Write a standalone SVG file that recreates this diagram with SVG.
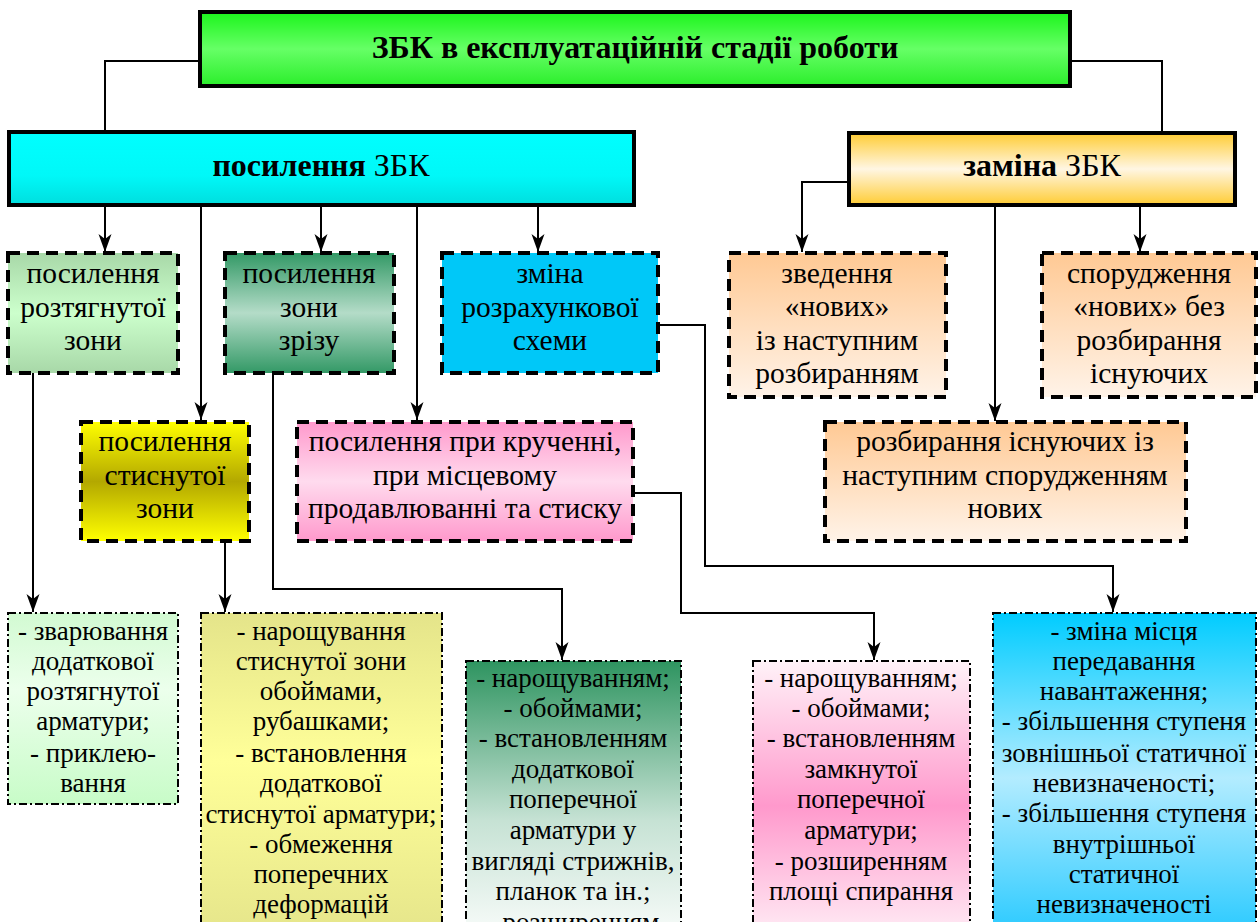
<svg xmlns="http://www.w3.org/2000/svg" width="1258" height="922" viewBox="0 0 1258 922">
<style>
.t{font-family:"Liberation Serif","Times New Roman",serif;font-size:29.5px;fill:#000;text-anchor:middle}
.h{font-size:32px}
.s{font-size:27px}
.b{font-weight:bold}
.hdr{stroke:#000;stroke-width:4}
.dsh{stroke:#000;stroke-width:4;stroke-dasharray:12 7}
.dd{stroke:#000;stroke-width:2;stroke-dasharray:8 3 2 3}
.c{fill:none;stroke:#000;stroke-width:2}
</style>
<defs>
<marker id="ah" markerUnits="userSpaceOnUse" markerWidth="20" markerHeight="14" refX="18" refY="7" orient="auto" viewBox="0 0 20 14"><path d="M0,0.5 L18,7 L0,13.5 L5,7 Z" fill="#000"/></marker>
<linearGradient id="gTitle" x1="0" y1="0" x2="0" y2="1"><stop offset="0" stop-color="#1cf51c"/><stop offset="0.5" stop-color="#66ff66"/><stop offset="1" stop-color="#2bee2b"/></linearGradient>
<linearGradient id="gCyan" x1="0" y1="0" x2="0" y2="1"><stop offset="0" stop-color="#00ffff"/><stop offset="0.6" stop-color="#00f8f8"/><stop offset="1" stop-color="#00dede"/></linearGradient>
<linearGradient id="gGold" x1="0" y1="0" x2="0" y2="1"><stop offset="0" stop-color="#ffcc33"/><stop offset="0.5" stop-color="#fff6e3"/><stop offset="1" stop-color="#ffcc33"/></linearGradient>
<linearGradient id="gLG" x1="0" y1="0" x2="0" y2="1"><stop offset="0" stop-color="#a8d8a8"/><stop offset="0.5" stop-color="#ccffcc"/><stop offset="1" stop-color="#a8d8a8"/></linearGradient>
<linearGradient id="gDG" x1="0" y1="0" x2="0" y2="1"><stop offset="0" stop-color="#339966"/><stop offset="0.5" stop-color="#b4dcc8"/><stop offset="1" stop-color="#339966"/></linearGradient>
<linearGradient id="gYel" x1="0" y1="0" x2="0" y2="1"><stop offset="0" stop-color="#ffff00"/><stop offset="0.5" stop-color="#b3a800"/><stop offset="1" stop-color="#ffff00"/></linearGradient>
<linearGradient id="gPink" x1="0" y1="0" x2="0" y2="1"><stop offset="0" stop-color="#ff99cc"/><stop offset="0.5" stop-color="#ffdbee"/><stop offset="1" stop-color="#ff99cc"/></linearGradient>
<linearGradient id="gOr" x1="0" y1="0" x2="0" y2="1"><stop offset="0" stop-color="#ffc994"/><stop offset="1" stop-color="#fff3e8"/></linearGradient>
<linearGradient id="gBLG" x1="0" y1="0" x2="0" y2="1"><stop offset="0" stop-color="#d2fad2"/><stop offset="0.4" stop-color="#ecffec"/><stop offset="1" stop-color="#c8fcc8"/></linearGradient>
<linearGradient id="gBY" x1="0" y1="0" x2="0" y2="1"><stop offset="0" stop-color="#e4e48a"/><stop offset="0.45" stop-color="#ffff99"/><stop offset="1" stop-color="#e4e48a"/></linearGradient>
<linearGradient id="gBDG" x1="0" y1="0" x2="0" y2="1"><stop offset="0" stop-color="#2e9460"/><stop offset="0.55" stop-color="#c6e2d4"/><stop offset="1" stop-color="#ffffff"/></linearGradient>
<linearGradient id="gBP" x1="0" y1="0" x2="0" y2="1"><stop offset="0" stop-color="#fff2f8"/><stop offset="0.5" stop-color="#ff99cc"/><stop offset="1" stop-color="#fff6fa"/></linearGradient>
<linearGradient id="gBB" x1="0" y1="0" x2="0" y2="1"><stop offset="0" stop-color="#00ccff"/><stop offset="0.5" stop-color="#b3ecff"/><stop offset="1" stop-color="#22c8ff"/></linearGradient>
</defs>

<g id="connectors">
<path class="c" d="M200,61 H105 V132"/>
<path class="c" d="M1070,61 H1162 V133"/>
<path class="c" d="M105,205 V252" marker-end="url(#ah)"/>
<path class="c" d="M201,205 V420" marker-end="url(#ah)"/>
<path class="c" d="M321,205 V252" marker-end="url(#ah)"/>
<path class="c" d="M417,205 V420" marker-end="url(#ah)"/>
<path class="c" d="M538,205 V252" marker-end="url(#ah)"/>
<path class="c" d="M849,182 H802 V252" marker-end="url(#ah)"/>
<path class="c" d="M1140,205 V252" marker-end="url(#ah)"/>
<path class="c" d="M995,205 V421" marker-end="url(#ah)"/>
<path class="c" d="M33,373 V612" marker-end="url(#ah)"/>
<path class="c" d="M225,541 V612" marker-end="url(#ah)"/>
<path class="c" d="M273,373 V589 H562 V660" marker-end="url(#ah)"/>
<path class="c" d="M633,493 H681 V613 H874 V660" marker-end="url(#ah)"/>
<path class="c" d="M658,325 H705 V566 H1113 V612" marker-end="url(#ah)"/>
</g>

<g id="title">
<rect class="hdr" x="200" y="12" width="870" height="74" fill="url(#gTitle)"/>
<text class="t h b" x="635" y="58">ЗБК в експлуатаційній стадії роботи</text>
</g>
<g id="posylennia">
<rect class="hdr" x="9" y="132" width="625" height="73" fill="url(#gCyan)"/>
<text class="t h" x="321" y="176"><tspan class="b">посилення</tspan> ЗБК</text>
</g>
<g id="zamina">
<rect class="hdr" x="849" y="133" width="386" height="72" fill="url(#gGold)"/>
<text class="t h" x="1042" y="176"><tspan class="b">заміна</tspan> ЗБК</text>
</g>

<g id="roztiahnuta">
<rect class="dsh" x="8" y="253" width="170" height="120" fill="url(#gLG)"/>
<text class="t" x="93" y="283">посилення</text>
<text class="t" x="93" y="317">розтягнутої</text>
<text class="t" x="93" y="350">зони</text>
</g>
<g id="zriz">
<rect class="dsh" x="225" y="253" width="169" height="120" fill="url(#gDG)"/>
<text class="t" x="309" y="283">посилення</text>
<text class="t" x="309" y="317">зони</text>
<text class="t" x="309" y="350">зрізу</text>
</g>
<g id="zmina-skhemy">
<rect class="dsh" x="442" y="253" width="216" height="120" fill="#00c8f8"/>
<text class="t" x="550" y="283">зміна</text>
<text class="t" x="550" y="317">розрахункової</text>
<text class="t" x="550" y="350">схеми</text>
</g>
<g id="zvedennia">
<rect class="dsh" x="729" y="253" width="217" height="144" fill="url(#gOr)"/>
<text class="t" x="837" y="283">зведення</text>
<text class="t" x="837" y="316">«нових»</text>
<text class="t" x="837" y="350">із наступним</text>
<text class="t" x="837" y="383">розбиранням</text>
</g>
<g id="sporudzhennia">
<rect class="dsh" x="1042" y="253" width="214" height="144" fill="url(#gOr)"/>
<text class="t" x="1149" y="283">спорудження</text>
<text class="t" x="1149" y="316">«нових» без</text>
<text class="t" x="1149" y="350">розбирання</text>
<text class="t" x="1149" y="383">існуючих</text>
</g>
<g id="stysnuta">
<rect class="dsh" x="81" y="422" width="168" height="119" fill="url(#gYel)"/>
<text class="t" x="165" y="451">посилення</text>
<text class="t" x="165" y="485">стиснутої</text>
<text class="t" x="165" y="518">зони</text>
</g>
<g id="kruchennia">
<rect class="dsh" x="297" y="422" width="336" height="119" fill="url(#gPink)"/>
<text class="t" x="465" y="451">посилення при крученні,</text>
<text class="t" x="465" y="485">при місцевому</text>
<text class="t" x="465" y="518">продавлюванні та стиску</text>
</g>
<g id="rozbyrannia">
<rect class="dsh" x="825" y="422" width="361" height="119" fill="url(#gOr)"/>
<text class="t" x="1005" y="451">розбирання існуючих із</text>
<text class="t" x="1005" y="485">наступним спорудженням</text>
<text class="t" x="1005" y="518">нових</text>
</g>

<g id="list-roztiahnuta">
<rect class="dd" x="8" y="613" width="170" height="191" fill="url(#gBLG)"/>
<text class="t s" x="93" y="640">- зварювання</text>
<text class="t s" x="93" y="670">додаткової</text>
<text class="t s" x="93" y="700">розтягнутої</text>
<text class="t s" x="93" y="730">арматури;</text>
<text class="t s" x="93" y="762">- приклею-</text>
<text class="t s" x="93" y="792">вання</text>
</g>
<g id="list-stysnuta">
<rect class="dd" x="201" y="613" width="241" height="330" fill="url(#gBY)"/>
<text class="t s" x="321" y="640">- нарощування</text>
<text class="t s" x="321" y="670">стиснутої зони</text>
<text class="t s" x="321" y="700">обоймами,</text>
<text class="t s" x="321" y="730">рубашками;</text>
<text class="t s" x="321" y="762">- встановлення</text>
<text class="t s" x="321" y="792">додаткової</text>
<text class="t s" x="321" y="823">стиснутої арматури;</text>
<text class="t s" x="321" y="853">- обмеження</text>
<text class="t s" x="321" y="883">поперечних</text>
<text class="t s" x="321" y="913">деформацій</text>
</g>
<g id="list-zriz">
<rect class="dd" x="466" y="661" width="215" height="290" fill="url(#gBDG)"/>
<text class="t s" x="573" y="687">- нарощуванням;</text>
<text class="t s" x="573" y="717">- обоймами;</text>
<text class="t s" x="573" y="747">- встановленням</text>
<text class="t s" x="573" y="778">додаткової</text>
<text class="t s" x="573" y="808">поперечної</text>
<text class="t s" x="573" y="839">арматури у</text>
<text class="t s" x="573" y="870">вигляді стрижнів,</text>
<text class="t s" x="573" y="900">планок та ін.;</text>
<text class="t s" x="573" y="931">- розширенням</text>
</g>
<g id="list-kruchennia">
<rect class="dd" x="753" y="661" width="217" height="290" fill="url(#gBP)"/>
<text class="t s" x="861" y="687">- нарощуванням;</text>
<text class="t s" x="861" y="717">- обоймами;</text>
<text class="t s" x="861" y="747">- встановленням</text>
<text class="t s" x="861" y="778">замкнутої</text>
<text class="t s" x="861" y="808">поперечної</text>
<text class="t s" x="861" y="839">арматури;</text>
<text class="t s" x="861" y="870">- розширенням</text>
<text class="t s" x="861" y="900">площі спирання</text>
</g>
<g id="list-skhema">
<rect class="dd" x="993" y="613" width="263" height="330" fill="url(#gBB)"/>
<text class="t s" x="1124" y="640">- зміна місця</text>
<text class="t s" x="1124" y="670">передавання</text>
<text class="t s" x="1124" y="700">навантаження;</text>
<text class="t s" x="1124" y="730">- збільшення ступеня</text>
<text class="t s" x="1124" y="762">зовнішньої статичної</text>
<text class="t s" x="1124" y="792">невизначеності;</text>
<text class="t s" x="1124" y="822">- збільшення ступеня</text>
<text class="t s" x="1124" y="853">внутрішньої</text>
<text class="t s" x="1124" y="883">статичної</text>
<text class="t s" x="1124" y="913">невизначеності</text>
</g>
</svg>
